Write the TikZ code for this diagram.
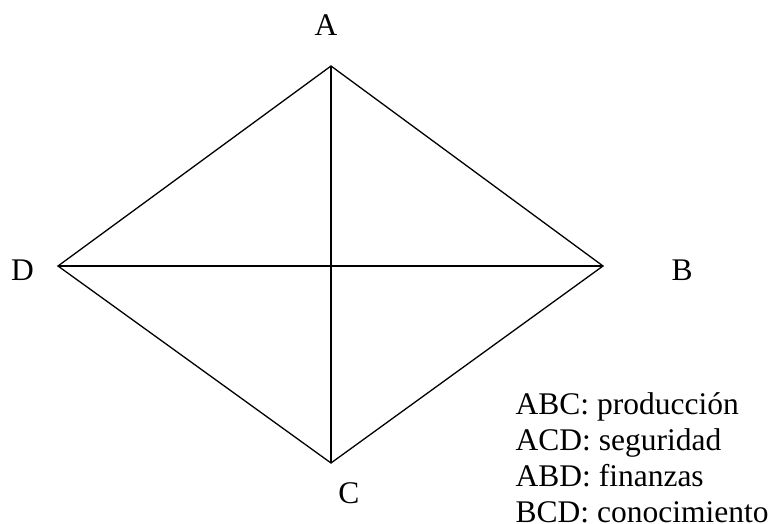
\documentclass[tikz,border=0pt]{standalone}
\usepackage{fontspec}
\setmainfont{Liberation Serif}
\usepackage{tikz}

\begin{document}
\begin{tikzpicture}[x=1pt, y=-1pt, line width=1.3pt,
    every node/.style={font=\fontsize{31.5}{36}\selectfont, inner sep=0pt},
    vlabel/.style={anchor=base},
    legend/.style={anchor=base west}]
    \useasboundingbox (0,0) rectangle (771,524);
    % vertices of the rhombus
    \coordinate (a) at (331,66);
    \coordinate (b) at (603,266);
    \coordinate (c) at (331,463);
    \coordinate (d) at (58,266);
    % vertex labels
    \node[vlabel] (la) at (326,36) {A};
    \node[vlabel] (lb) at (682,280) {B};
    \node[vlabel] (lc) at (349,503) {C};
    \node[vlabel] (ld) at (22.5,280) {D};
    % legend
    \node[legend] (abc) at (515,414.5) {ABC: producción};
    \node[legend] (acd) at (515,450.5) {ACD: seguridad};
    \node[legend] (abd) at (515,486.5) {ABD: finanzas};
    \node[legend] (bcd) at (515,522) {BCD: conocimiento};
    \draw (a) -- (b) -- (c) -- (d) -- cycle;
    \draw (a) -- (c);
    \draw (d) -- (b);
\end{tikzpicture}
\end{document}
